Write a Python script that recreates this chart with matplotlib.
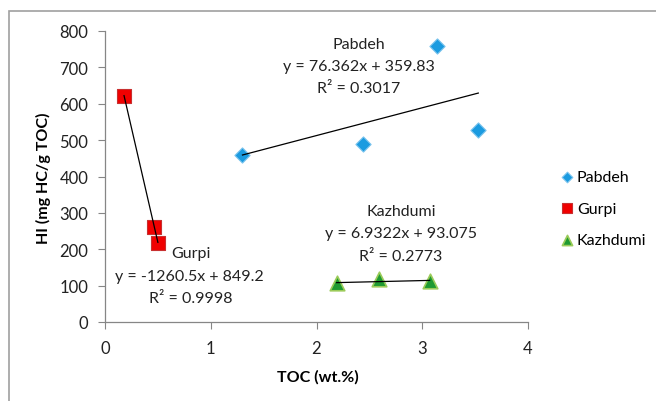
import matplotlib.pyplot as plt
from matplotlib.patches import Rectangle

plt.rcParams['font.family'] = ['Lato', 'DejaVu Sans']

# Pabdeh
pab_toc = [1.30, 2.44, 3.14, 3.53]
pab_hi = [459, 488, 760, 527]
pab_fit = (76.362, 359.83)

# Gurpi
gur_toc = [0.18, 0.46, 0.50]
gur_hi = [622, 260, 218]
gur_fit = (-1260.5, 849.2)

# Kazhdumi
kaz_toc = [2.19, 2.59, 3.07]
kaz_hi = [107, 117, 113]
kaz_fit = (6.9322, 93.075)

x_ticks = [0, 1, 2, 3, 4]
y_ticks = [0, 100, 200, 300, 400, 500, 600, 700, 800]

AX_GRAY = "#868686"


def trend(ax, xs, fit):
    x0, x1 = min(xs), max(xs)
    ax.plot([x0, x1], [fit[0] * x0 + fit[1], fit[0] * x1 + fit[1]],
            color="black", lw=0.9, zorder=3)


def main():
    fig = plt.figure(figsize=(6.56, 4.02), dpi=100)
    ax = fig.add_axes([105 / 656, 1 - 323 / 402, 423 / 656, 291 / 402])

    # outer chart frame
    fig.patches.append(Rectangle((9 / 656, -0.1), 1.2, 1 - 12 / 402 + 0.1,
                                 transform=fig.transFigure, fill=False,
                                 edgecolor="#A0A0A0", lw=1.2))

    ax.scatter(pab_toc, pab_hi, marker="D", s=60, c="#1B9BE0",
               edgecolors="#7CC4EE", linewidths=0.8, zorder=2, label="Pabdeh")
    ax.scatter(gur_toc, gur_hi, marker="s", s=110, c="#F00000",
               edgecolors="#C83030", linewidths=0.8, zorder=2, label="Gurpi")
    ax.scatter(kaz_toc, kaz_hi, marker="^", s=110, c="#1E9A32",
               edgecolors="#9BCB59", linewidths=1.2, zorder=2, label="Kazhdumi")

    trend(ax, pab_toc, pab_fit)
    trend(ax, gur_toc, gur_fit)
    trend(ax, kaz_toc, kaz_fit)

    fs = 11.5
    txt = dict(ha="center", va="center", fontsize=fs, color="#222222")
    ax.text(2.40, 764, "Pabdeh", **txt)
    ax.text(2.40, 703, "y = 76.362x + 359.83", **txt)
    ax.text(2.40, 643, "R² = 0.3017", **txt)

    ax.text(2.80, 305, "Kazhdumi", **txt)
    ax.text(2.80, 245, "y = 6.9322x + 93.075", **txt)
    ax.text(2.80, 181, "R² = 0.2773", **txt)

    ax.text(0.81, 190, "Gurpi", **txt)
    ax.text(0.80, 126, "y = -1260.5x + 849.2", **txt)
    ax.text(0.81, 66, "R² = 0.9998", **txt)

    ax.set_xlim(0, 4)
    ax.set_ylim(0, 800)
    ax.set_xticks(x_ticks)
    ax.set_yticks(y_ticks)
    ax.tick_params(labelsize=12, colors="#222222", length=5, width=0.8,
                   color=AX_GRAY)
    ax.tick_params(axis="x", pad=8)
    ax.tick_params(axis="y", pad=7)
    for side in ("top", "right"):
        ax.spines[side].set_visible(False)
    for side in ("left", "bottom"):
        ax.spines[side].set_color(AX_GRAY)
        ax.spines[side].set_linewidth(0.9)

    fig.text(318 / 656, 1 - 377 / 402, "TOC (wt.%)", fontsize=11.5,
             fontweight="bold", ha="center", va="center")
    fig.text(43 / 656, 1 - 178 / 402, "HI (mg HC/g TOC)", fontsize=11.5,
             fontweight="bold", ha="center", va="center", rotation=90)

    ax.legend(loc="center left", bbox_to_anchor=(1.04, 0.39), frameon=False,
              fontsize=11.5, handletextpad=0.1, labelspacing=1.1,
              handlelength=1.0, markerscale=0.7)

    fig.savefig("out.png", dpi=100)
    plt.close(fig)


if __name__ == "__main__":
    main()
